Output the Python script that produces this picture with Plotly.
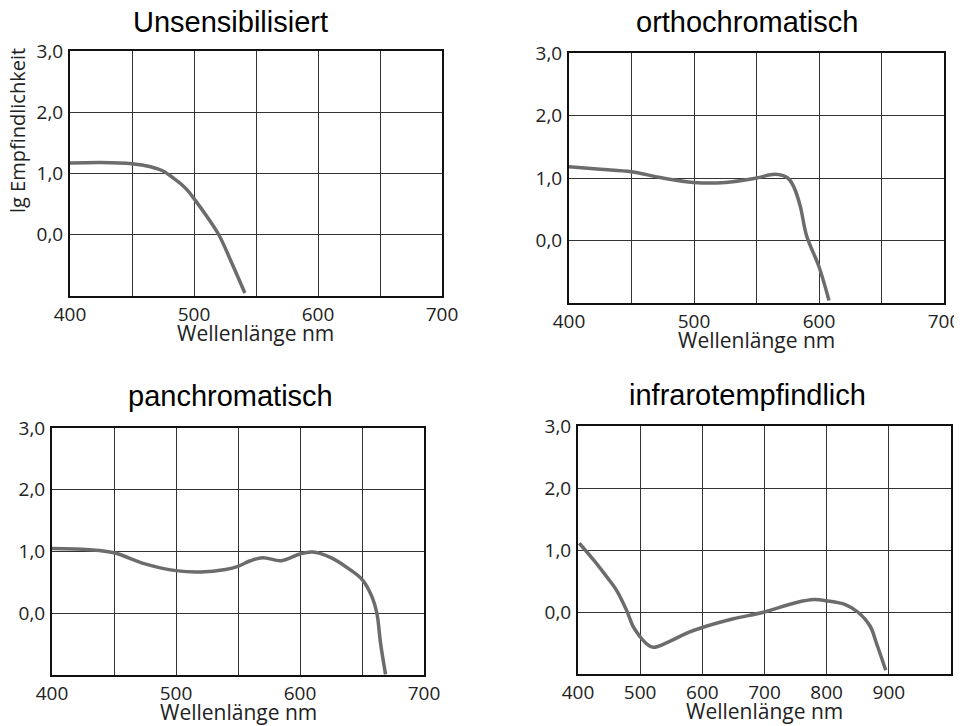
import plotly.graph_objects as go

# the page body has an 8px margin: the figure is drawn offset by (8, 8) in the window
OFF = 8
W, H = 962 - OFF, 726 - OFF

# ---- data ----
unsens_x = [400, 425, 450, 465, 475, 485, 490, 495, 500, 510, 520, 530, 541]
unsens_y = [1.17, 1.18, 1.16, 1.11, 1.04, 0.90, 0.82, 0.72, 0.59, 0.31, 0.0, -0.44, -0.95]

ortho_x = [400, 425, 450, 475, 500, 525, 550, 565, 575, 580, 585, 590, 600, 608]
ortho_y = [1.18, 1.14, 1.10, 1.00, 0.93, 0.93, 1.00, 1.06, 1.00, 0.85, 0.55, 0.08, -0.42, -0.96]

pan_x = [400, 430, 450, 475, 500, 520, 540, 550, 560, 570, 585, 600, 610, 625, 640, 650, 658, 662, 665, 669]
pan_y = [1.05, 1.03, 0.98, 0.80, 0.69, 0.67, 0.71, 0.76, 0.85, 0.90, 0.85, 0.96, 0.99, 0.90, 0.71, 0.55, 0.27, 0.0, -0.49, -0.99]

ir_x = [402, 425, 446, 462, 478, 489, 500, 510, 521, 550, 575, 600, 650, 700, 750, 780, 800, 830, 850, 870, 880, 895]
ir_y = [1.11, 0.84, 0.57, 0.35, 0.03, -0.24, -0.40, -0.51, -0.57, -0.46, -0.34, -0.25, -0.11, 0.0, 0.15, 0.20, 0.18, 0.12, 0.0, -0.23, -0.50, -0.94]

titles = ["Unsensibilisiert", "orthochromatisch", "panchromatisch", "infrarotempfindlich"]
x_title = "Wellenlänge nm"
y_title = "lg Empfindlichkeit"

y_ticks = [-1, 0, 1, 2, 3]
y_labels = ["", "0,0", "1,0", "2,0", "3,0"]
x_ticks_vis = [400, 450, 500, 550, 600, 650, 700]
x_labels_vis = ["400", "", "500", "", "600", "", "700"]
x_ticks_ir = [400, 500, 600, 700, 800, 900, 1000]
x_labels_ir = ["400", "500", "600", "700", "800", "900", ""]

# ---- layout geometry (window pixels) ----
panels = [  # x0, x1, ytop, ybottom
    (70, 442, 51, 296),
    (569, 944, 53, 303),
    (52, 424, 428, 675),
    (578, 951, 426, 674),
]
title_pos = [(230, 22), (747, 22), (230, 396), (747, 395)]


def px(x):
    return (x - OFF) / W


def py(y):
    return 1 - (y - OFF) / H


series = [(unsens_x, unsens_y), (ortho_x, ortho_y), (pan_x, pan_y), (ir_x, ir_y)]
xranges = [[400, 700], [400, 700], [400, 700], [400, 1000]]
xticks = [(x_ticks_vis, x_labels_vis)] * 3 + [(x_ticks_ir, x_labels_ir)]

fig = go.Figure()
tick_font = dict(family="Open Sans, DejaVu Sans, sans-serif", size=19, color="#222222")
layout = dict(
    width=W, height=H,
    margin=dict(l=0, r=0, t=0, b=0, autoexpand=False),
    paper_bgcolor="white", plot_bgcolor="white",
    showlegend=False,
)
annotations = []
for i, ((x0, x1, yt, yb), (xs, ys), xr, (tv, tt)) in enumerate(zip(panels, series, xranges, xticks)):
    n = "" if i == 0 else str(i + 1)
    fig.add_trace(go.Scatter(
        x=xs, y=ys, mode="lines",
        line=dict(color="#6c6c6c", width=3.5, shape="spline", smoothing=1.0),
        xaxis="x" + n, yaxis="y" + n, hoverinfo="skip",
    ))
    common = dict(showline=True, mirror=True, linecolor="#111111", linewidth=2,
                  showgrid=True, gridcolor="#333333", gridwidth=1, zeroline=False,
                  ticks="", tickfont=tick_font, fixedrange=True, automargin=False,
                  ticklabeloverflow="allow")
    layout["xaxis" + n] = dict(common, domain=[px(x0), px(x1)], range=xr,
                               tickmode="array", tickvals=tv, ticktext=tt,
                               anchor="y" + n, ticklabelstandoff=0)
    layout["yaxis" + n] = dict(common, domain=[py(yb), py(yt)], range=[-1, 3],
                               tickmode="array", tickvals=y_ticks, ticktext=y_labels,
                               anchor="x" + n, ticklabelstandoff=1)
    # panel title
    tx, ty = title_pos[i]
    annotations.append(dict(text=titles[i], x=px(tx), y=py(ty), xref="paper", yref="paper",
                            showarrow=False, xanchor="center", yanchor="middle",
                            font=dict(family="Liberation Sans, Arial, sans-serif", size=29, color="#000000")))
    # x-axis title
    annotations.append(dict(text=x_title, x=px((x0 + x1) / 2), y=py(yb + 37),
                            xref="paper", yref="paper", showarrow=False,
                            xanchor="center", yanchor="middle",
                            font=dict(family="Open Sans, DejaVu Sans, sans-serif", size=21, color="#222222")))

annotations.append(dict(text=y_title, x=px(18), y=py(131), xref="paper", yref="paper",
                        showarrow=False, textangle=-90, xanchor="center", yanchor="middle",
                        font=dict(family="Open Sans, DejaVu Sans, sans-serif", size=20, color="#222222")))
layout["annotations"] = annotations
fig.update_layout(**layout)
fig.write_html("out.html")
